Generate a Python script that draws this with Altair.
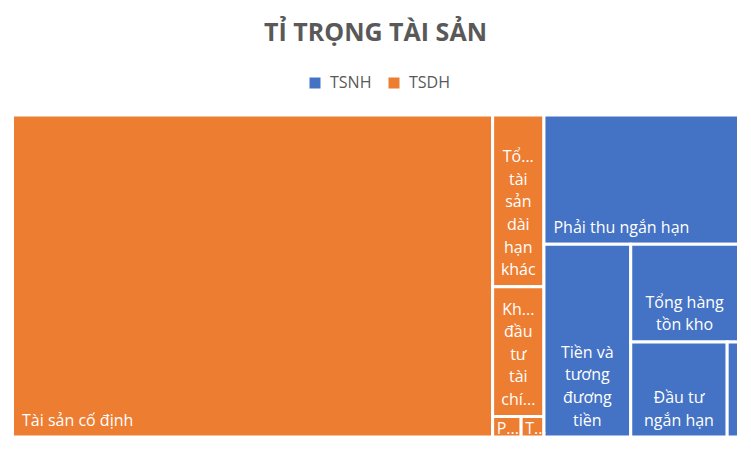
import altair as alt
import pandas as pd

# ---- data -------------------------------------------------------------
groups = ["TSDH", "TSDH", "TSDH", "TSDH", "TSDH",
          "TSNH", "TSNH", "TSNH", "TSNH", "TSNH"]
items = ["Tài sản cố định", "Tổng tài sản dài hạn khác",
         "Khoản đầu tư tài chính dài hạn", "Phải thu dài hạn",
         "Tài sản dở dang dài hạn", "Phải thu ngắn hạn",
         "Tiền và tương đương tiền", "Tổng hàng tồn kho",
         "Đầu tư ngắn hạn", "Tài sản ngắn hạn khác"]
values = [66.14, 3.77, 2.85, 0.25, 0.20, 10.75, 7.16, 4.51, 3.92, 0.46]
label_lines = [["Tài sản cố định"],
               ["Tổ...", "tài", "sản", "dài", "hạn", "khác"],
               ["Kh...", "đầu", "tư", "tài", "chí..."],
               ["P..."], ["T..."],
               ["Phải thu ngắn hạn"],
               ["Tiền và", "tương", "đương", "tiền"],
               ["Tổng hàng", "tồn kho"],
               ["Đầu tư", "ngắn hạn"],
               []]
legend_order = ["TSNH", "TSDH"]
colors = ["#4472C4", "#ED7D31"]

# treemap nesting (which tiles share a strip, and the strip direction)
tree = ("h", [("h", [0, ("v", [1, 2, ("h", [3, 4])])]),
              ("v", [5, ("h", [6, ("v", [7, ("h", [8, 9])])])])])

W, H = 726, 322


def total(node):
    if isinstance(node, int):
        return values[node]
    return sum(total(c) for c in node[1])


rects = {}


def layout(node, x0, y0, x1, y1):
    if isinstance(node, int):
        rects[node] = (x0, y0, x1, y1)
        return
    d, kids = node
    t = total(node)
    pos = x0 if d == "h" else y0
    for k in kids:
        f = total(k) / t
        if d == "h":
            w = (x1 - x0) * f
            layout(k, pos, y0, pos + w, y1)
        else:
            w = (y1 - y0) * f
            layout(k, x0, pos, x1, pos + w)
        pos += w


layout(tree, 0, 0, W, H)

tiles = pd.DataFrame([
    {"group": groups[i], "item": items[i], "value": values[i],
     "x0": rects[i][0], "y0": rects[i][1], "x1": rects[i][2], "y1": rects[i][3]}
    for i in range(len(items))
])

LH = 22.6
rows = []
for i, lines in enumerate(label_lines):
    x0, y0, x1, y1 = rects[i]
    small = (y1 - y0) < 30
    pb = 3 if small else 11.5
    pl = 4 if small else 9.5
    n = len(lines)
    for j, s in enumerate(lines):
        rows.append({
            "text": s,
            "single": n == 1,
            "x": (x0 + pl) if n == 1 else (x0 + x1) / 2,
            "y": y1 - pb - (n - 1 - j) * LH,
        })
labels = pd.DataFrame(rows)

xs = alt.Scale(domain=[0, W], nice=False, zero=False)
ys = alt.Scale(domain=[0, H], nice=False, zero=False, reverse=True)

rect = alt.Chart(tiles).mark_rect(stroke="white", strokeWidth=3).encode(
    x=alt.X("x0:Q", scale=xs, axis=None),
    x2="x1:Q",
    y=alt.Y("y0:Q", scale=ys, axis=None),
    y2="y1:Q",
    color=alt.Color("group:N",
                    scale=alt.Scale(domain=legend_order, range=colors),
                    legend=alt.Legend(title=None, orient="none",
                                      legendX=294.5, legendY=-40,
                                      direction="horizontal",
                                      symbolType="square", symbolSize=121,
                                      symbolStrokeWidth=0, symbolOpacity=1,
                                      labelFont="Open Sans", labelFontSize=16,
                                      labelColor="#595959", labelOffset=7,
                                      columnPadding=14, padding=0)),
    tooltip=["item:N", "value:Q"],
)

txt_style = dict(font="Open Sans", fontSize=16, color="white",
                 baseline="alphabetic")

t_left = alt.Chart(labels).transform_filter("datum.single").mark_text(
    align="left", **txt_style).encode(
    x=alt.X("x:Q", scale=xs), y=alt.Y("y:Q", scale=ys), text="text:N")

t_center = alt.Chart(labels).transform_filter("!datum.single").mark_text(
    align="center", **txt_style).encode(
    x=alt.X("x:Q", scale=xs), y=alt.Y("y:Q", scale=ys), text="text:N")

chart = alt.layer(rect, t_left, t_center).properties(
    width=W, height=H,
    title=alt.TitleParams("TỈ TRỌNG TÀI SẢN", font="Open Sans", fontSize=25,
                          fontWeight="bold", color="#595959", anchor="middle",
                          baseline="alphabetic", offset=9),
    autosize=alt.AutoSizeParams(type="none"),
    padding={"left": 4.5, "top": 107, "right": 4.5, "bottom": 6},
).configure_view(strokeWidth=0).configure(background="white")

chart.save("out.html", embed_options={"renderer": "svg", "actions": False})
